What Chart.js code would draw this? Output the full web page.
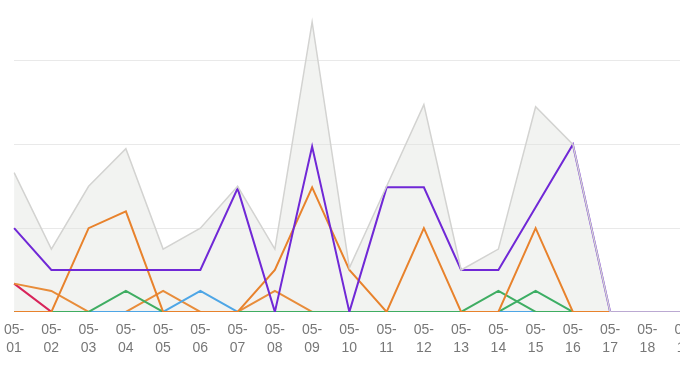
<!DOCTYPE html>
<html>
<head>
<meta charset="utf-8">
<script src="https://cdn.jsdelivr.net/npm/chart.js@4"></script>
<style>
  html, body { margin: 0; padding: 0; background: #fff; overflow: hidden; width: 680px; height: 375px; }
  #wrap { position: absolute; left: -5.5px; top: -40px; width: 746px; height: 406px; }
</style>
</head>
<body>
<div id="wrap"><canvas id="chart"></canvas></div>
<script>
const days = ["05-01", "05-02", "05-03", "05-04", "05-05", "05-06", "05-07", "05-08", "05-09", "05-10",
  "05-11", "05-12", "05-13", "05-14", "05-15", "05-16", "05-17", "05-18", "05-19", "05-20"];

// series
const total   = [6.65, 3, 6, 7.8, 3, 4, 6, 3, 13.85, 2.1, 6, 9.9, 2, 3, 9.8, 8, 0, 0, 0, 0];
const purple  = [4, 2, 2, 2, 2, 2, 5.9, 0, 7.9, 0, 5.95, 5.95, 2, 2, 5, 8, 0, 0, 0, 0];
const orangeA = [0, 0, 4, 4.8, 0, 0, 0, 2, 5.95, 2, 0, 4, 0, 0, 4, 0, 0, 0, 0, 0];
const greenA  = [0, 0, 0, 1, 0, 0, 0, 0, 0, 0, 0, 0, 0, 1, 0, 0, 0, 0, 0, 0];
const blue    = [0, 0, 0, 0, 0, 1, 0, 0, 0, 0, 0, 0, 0, 0, 0, 0, 0, 0, 0, 0];
const greenB  = [0, 0, 0, 0, 0, 0, 0, 0, 0, 0, 0, 0, 0, 0, 1, 0, 0, 0, 0, 0];
const orangeB = [1.35, 1, 0, 0, 1, 0, 0, 1, 0, 0, 0, 0, 0, 0, 0, 0, 0, 0, 0, 0];
const red     = [1.35, 0, 0, 0, 0, 0, 0, 0, 0, 0, 0, 0, 0, 0, 0, 0, 0, 0, 0, 0];

function line(data, color, extra) {
  return Object.assign({
    data: data,
    borderColor: color,
    borderWidth: 2,
    pointRadius: 0,
    tension: 0,
    fill: false
  }, extra || {});
}

new Chart(document.getElementById("chart"), {
  type: "line",
  data: {
    labels: days,
    datasets: [
      line(total, "#d3d3d1", { borderWidth: 1.5, fill: "origin", backgroundColor: "rgba(222,225,220,0.4)" }),
      line(purple, "#7028d6"),
      line(orangeA, "#e8822c"),
      line(greenA, "#3fad62"),
      line(blue, "#4ea6e6"),
      line(greenB, "#3cae64"),
      line(orangeB, "#e88c3a"),
      line(red, "#d8245a")
    ]
  },
  options: {
    responsive: true,
    maintainAspectRatio: false,
    animation: false,
    layout: { padding: { top: 17, left: 0, right: 0, bottom: 0 } },
    plugins: {
      legend: { display: false },
      tooltip: { enabled: false },
      filler: { drawTime: "beforeDatasetsDraw" }
    },
    scales: {
      x: {
        grid: { display: false, drawTicks: false },
        border: { display: false },
        ticks: {
          autoSkip: false,
          maxRotation: 0,
          padding: 9,
          color: "#777777",
          font: { family: "'Liberation Sans', Arial, sans-serif", size: 14, lineHeight: 1.29 },
          callback: function (v) {
            const s = this.getLabelForValue(v);
            return [s.slice(0, 3), s.slice(3)];
          }
        }
      },
      y: {
        min: 0,
        max: 16,
        grid: { color: "#e9e9e9", lineWidth: 1, drawTicks: false },
        border: { display: false },
        ticks: { display: false, stepSize: 4 }
      }
    }
  }
});
</script>
</body>
</html>
